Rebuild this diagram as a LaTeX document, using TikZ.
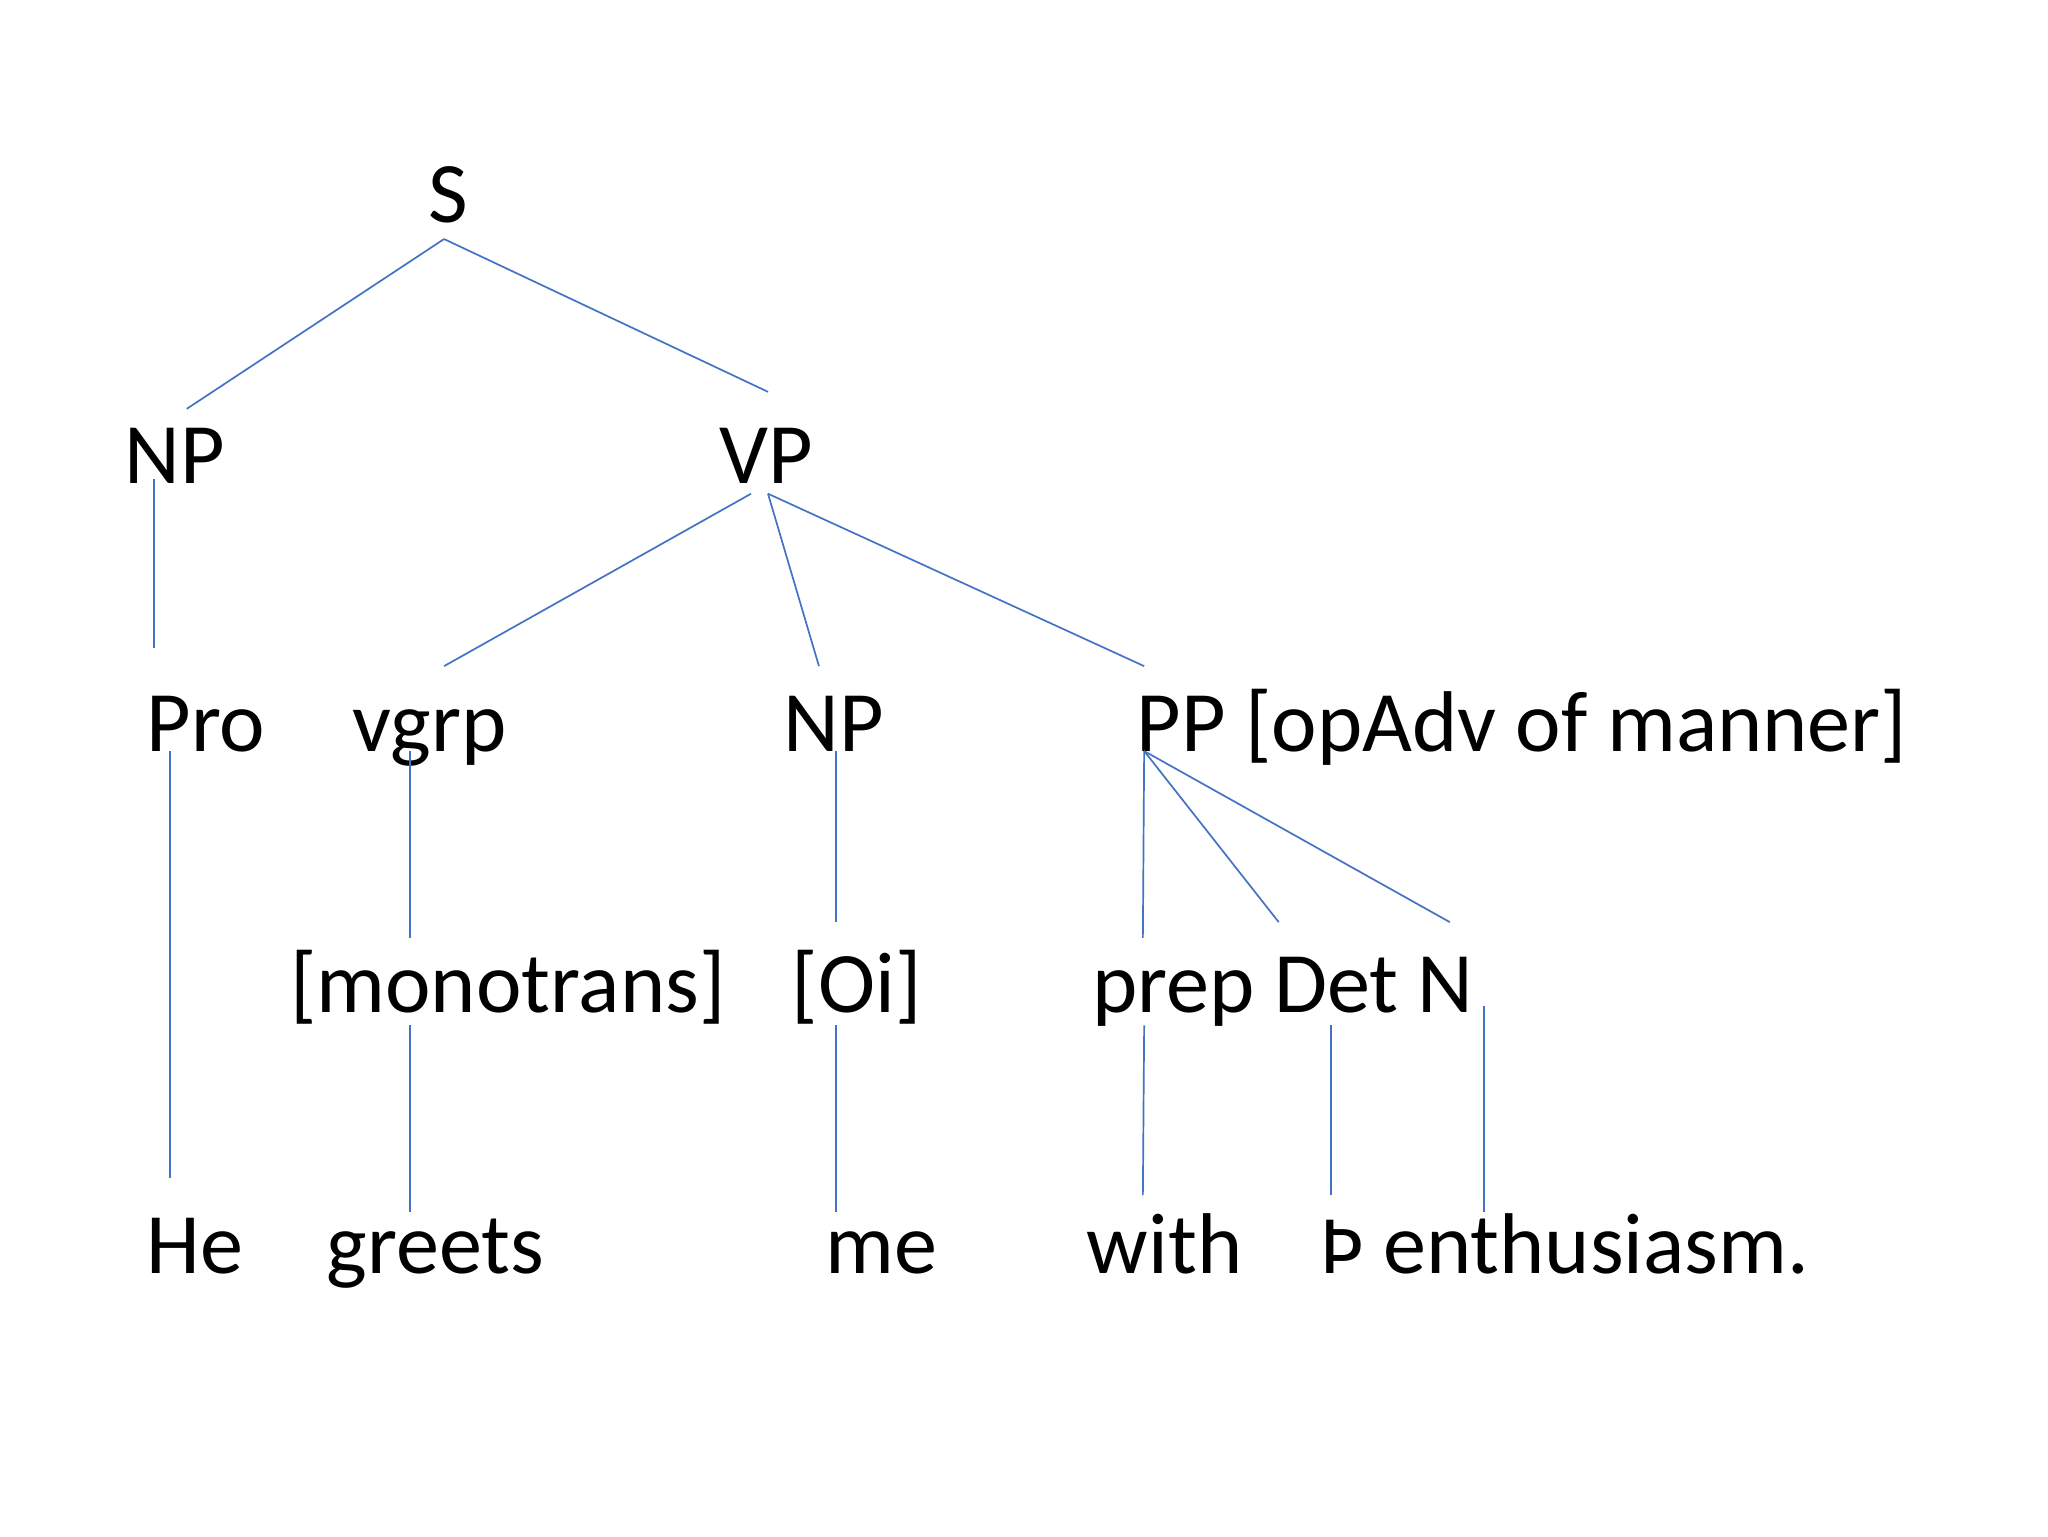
\documentclass[tikz,border=0pt]{standalone}
\usepackage{fontspec}
\setmainfont{Carlito}
\begin{document}
\begin{tikzpicture}[x=1pt,y=-1pt,
  lbl/.style={anchor=base west,inner sep=0pt,font=\fontsize{66}{70}\selectfont},
  br/.style={draw={rgb,255:red,68;green,114;blue,196},line width=1.3pt}]
\useasboundingbox[fill=white] (0,0) rectangle (1568,1176);
\node[lbl] (S) at (328,170) {S};
\node[lbl] (NP1) at (95,370) {NP};
\node[lbl] (VP) at (551,370) {VP};
\node[lbl] (Pro) at (112,575) {Pro};
\node[lbl] (vgrp) at (270,575) {vgrp};
\node[lbl] (NP2) at (600,575) {NP};
\node[lbl] (PP) at (870,575) {PP [opAdv of manner]};
\node[lbl] (mono) at (222,775) {[monotrans]};
\node[lbl] (Oi) at (606,775) {[Oi]};
\node[lbl] (pdn) at (836,775) {prep Det N};
\node[lbl] (He) at (112,975) {He};
\node[lbl] (gr) at (250,975) {greets};
\node[lbl] (me) at (632,975) {me};
\node[lbl] (with) at (832,975) {with};
\node[lbl] (enth) at (1010,975) {\fontspec{DejaVu Sans}\fontsize{56}{60}\selectfont Þ\fontspec{Carlito}\fontsize{66}{70}\selectfont{} enthusiasm.};
\foreach \n/\x/\y in {a1/340/183,a2/143/313,a3/588/300,b1/118/367,b2/118/496,
 c0/575/378,c1/340/510,c2/588/378,c3/627/510,c4/876/510,
 d1/130/575,d2/130/902,e1/314/575,e2/314/718,f1/640/575,f2/640/706,
 g0/876/575,g1/875/718,g2/979/706,g3/1110/706,
 h1/314/785,h2/314/928,i1/640/785,i2/640/928,j1/876/785,j2/875/915,
 k1/1019/785,k2/1019/915,l1/1136/770,l2/1136/928}
 \coordinate (\n) at (\x,\y);
\draw[br] (a1)--(a2); \draw[br] (a1)--(a3);
\draw[br] (b1)--(b2);
\draw[br] (c0)--(c1); \draw[br] (c2)--(c3); \draw[br] (c2)--(c4);
\draw[br] (d1)--(d2); \draw[br] (e1)--(e2); \draw[br] (f1)--(f2);
\draw[br] (g0)--(g1); \draw[br] (g0)--(g2); \draw[br] (g0)--(g3);
\draw[br] (h1)--(h2); \draw[br] (i1)--(i2); \draw[br] (j1)--(j2);
\draw[br] (k1)--(k2); \draw[br] (l1)--(l2);
\end{tikzpicture}
\end{document}
